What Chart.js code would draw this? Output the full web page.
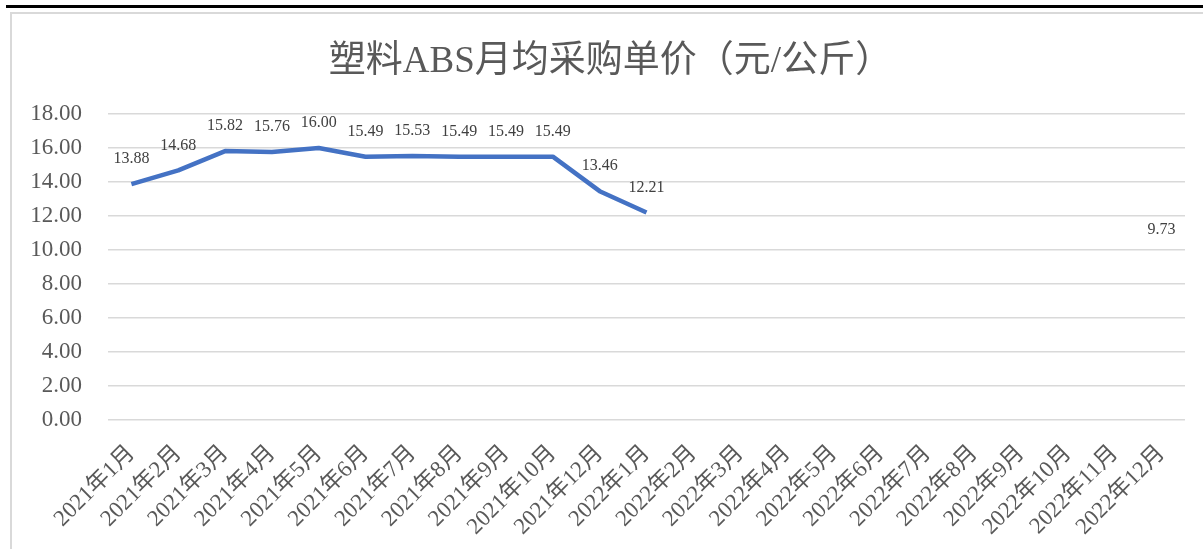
<!DOCTYPE html>
<html><head><meta charset="utf-8">
<script src="https://cdn.jsdelivr.net/npm/chart.js@4/dist/chart.umd.min.js"></script>
<style>
html,body{margin:0;padding:0;background:#fff;width:1203px;height:549px;overflow:hidden;}
#topline{position:absolute;left:6px;top:5px;width:1210px;height:3px;background:#000;}
#frame{position:absolute;left:10px;top:12px;width:1220px;height:560px;border:2px solid #d9d9d9;box-sizing:border-box;}
#wrap{position:absolute;left:0;top:0;width:1203px;height:549px;}
</style></head>
<body>
<div id="topline"></div>
<div id="frame"></div>
<div id="wrap"><canvas id="c" width="1203" height="549"></canvas></div>
<script>
const titleText = '塑料ABS月均采购单价（元/公斤）';
const categories = ['2021年1月','2021年2月','2021年3月','2021年4月','2021年5月','2021年6月','2021年7月','2021年8月','2021年9月','2021年10月','2021年12月','2022年1月','2022年2月','2022年3月','2022年4月','2022年5月','2022年6月','2022年7月','2022年8月','2022年9月','2022年10月','2022年11月','2022年12月'];
const prices = [13.88,14.68,15.82,15.76,16.00,15.49,15.53,15.49,15.49,15.49,13.46,12.21,null,null,null,null,null,null,null,null,null,null,9.73];
const yTicks = [0,2,4,6,8,10,12,14,16,18];

const FONT = '"Liberation Serif","Noto Sans CJK SC",serif';

const labelPlugin = {
  id:'valueLabels',
  afterDatasetsDraw(chart){
    const ctx = chart.ctx;
    const meta = chart.getDatasetMeta(0);
    ctx.save();
    ctx.font = '16px ' + FONT;
    ctx.fillStyle = '#404040';
    ctx.textAlign = 'center';
    ctx.textBaseline = 'middle';
    meta.data.forEach((pt,i)=>{
      const v = prices[i];
      if (v === null || v === undefined) return;
      const x = chart.scales.x.getPixelForValue(i);
      const y = chart.scales.y.getPixelForValue(v);
      ctx.fillText(v.toFixed(2), x, y - 25);
    });
    ctx.restore();
  }
};

const titlePlugin = {
  id:'customTitle',
  afterDraw(chart){
    const ctx = chart.ctx;
    ctx.save();
    ctx.font = '37px ' + FONT;
    ctx.fillStyle = '#595959';
    ctx.textAlign = 'center';
    ctx.textBaseline = 'middle';
    ctx.fillText(titleText, chart.width / 2 + 9, 62);
    ctx.restore();
  }
};

new Chart(document.getElementById('c'), {
  type:'line',
  data:{labels:categories, datasets:[{data:prices, borderColor:'#4472C4', backgroundColor:'#4472C4', borderWidth:4.5, pointRadius:0, borderJoinStyle:'round', borderCapStyle:'butt', spanGaps:false, tension:0}]},
  options:{
    responsive:false, animation:false,
    layout:{padding:{left:29,right:18,top:114,bottom:0}},
    plugins:{
      legend:{display:false}, tooltip:{enabled:false}, title:{display:false}
    },
    scales:{
      x:{offset:true, grid:{display:false}, border:{display:false},
         ticks:{autoSkip:false, maxRotation:45, minRotation:45, color:'#595959', font:{family:FONT, size:23}, padding:12},
         afterFit(s){ s.height = 129; }},
      y:{min:0, max:18, afterBuildTicks(s){ s.ticks = yTicks.map(v=>({value:v})); },
         grid:{color:'#d9d9d9', lineWidth:1.5, drawTicks:false}, border:{display:false},
         ticks:{color:'#595959', font:{family:FONT, size:23}, padding:26, callback:v=>Number(v).toFixed(2)},
         afterFit(s){ s.width = 79; }}
    }
  },
  plugins:[labelPlugin, titlePlugin]
});
</script>
</body></html>
